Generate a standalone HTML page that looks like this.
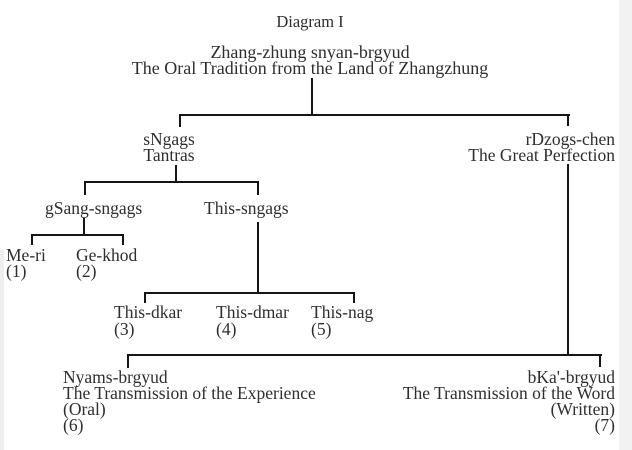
<!DOCTYPE html>
<html><head><meta charset="utf-8"><style>
html,body{margin:0;padding:0}
body{width:632px;height:450px;position:relative;overflow:hidden;background:#fff;font-family:"Liberation Serif",serif;font-size:17.5px;color:#2e2e2e;line-height:16px}
.t{position:absolute;white-space:nowrap}
.c{transform:translateX(-50%);text-align:center}
.r{text-align:right}
.h{position:absolute;height:2px;background:#151515}
.v{position:absolute;width:2px;background:#151515}
</style></head><body>
<div style="position:absolute;left:619px;top:0;width:13px;height:450px;background:#f2f2f2"></div>
<div style="position:absolute;left:0;top:250px;width:4px;height:200px;background:#efefef"></div>

<div class="t c" style="left:310px;top:14px;font-size:16.5px">Diagram I</div>
<div class="t c" style="left:310px;top:44px;font-size:18px">Zhang-zhung snyan-brgyud<br>The Oral Tradition from the Land of Zhangzhung</div>

<div class="v" style="left:311px;top:78px;height:38px"></div>
<div class="h" style="left:179px;top:114px;width:391px"></div>
<div class="v" style="left:179px;top:114px;height:13px"></div>
<div class="v" style="left:567px;top:114px;height:12px"></div>

<div class="t c" style="left:169px;top:131px">sNgags<br>Tantras</div>
<div class="t r" style="right:17px;top:131px">rDzogs-chen<br>The Great Perfection</div>

<div class="v" style="left:175px;top:165px;height:18px"></div>
<div class="h" style="left:84px;top:181px;width:175px"></div>
<div class="v" style="left:84px;top:181px;height:14px"></div>
<div class="v" style="left:257px;top:181px;height:14px"></div>

<div class="t" style="left:45px;top:200px">gSang-sngags</div>
<div class="t" style="left:204px;top:200px">This-sngags</div>

<div class="v" style="left:83px;top:218px;height:18px"></div>
<div class="h" style="left:31px;top:234px;width:93px"></div>
<div class="v" style="left:31px;top:234px;height:11px"></div>
<div class="v" style="left:122px;top:234px;height:11px"></div>

<div class="t" style="left:6px;top:247px">Me-ri<br>(1)</div>
<div class="t" style="left:76px;top:247px">Ge-khod<br>(2)</div>

<div class="v" style="left:257px;top:222px;height:72px"></div>
<div class="h" style="left:144px;top:292px;width:211px"></div>
<div class="v" style="left:144px;top:292px;height:11px"></div>
<div class="v" style="left:353px;top:292px;height:11px"></div>

<div class="t" style="left:114px;top:304px;line-height:17px">This-dkar<br>(3)</div>
<div class="t" style="left:216px;top:304px;line-height:17px">This-dmar<br>(4)</div>
<div class="t" style="left:311px;top:304px;line-height:17px">This-nag<br>(5)</div>

<div class="v" style="left:567px;top:164px;height:192px"></div>
<div class="h" style="left:127px;top:354px;width:475px"></div>
<div class="v" style="left:127px;top:354px;height:14px"></div>
<div class="v" style="left:599px;top:354px;height:13px"></div>

<div class="t" style="left:63px;top:369px">Nyams-brgyud<br>The Transmission of the Experience<br>(Oral)<br>(6)</div>
<div class="t r" style="right:17px;top:369px">bKa'-brgyud<br>The Transmission of the Word<br>(Written)<br>(7)</div>
</body></html>
